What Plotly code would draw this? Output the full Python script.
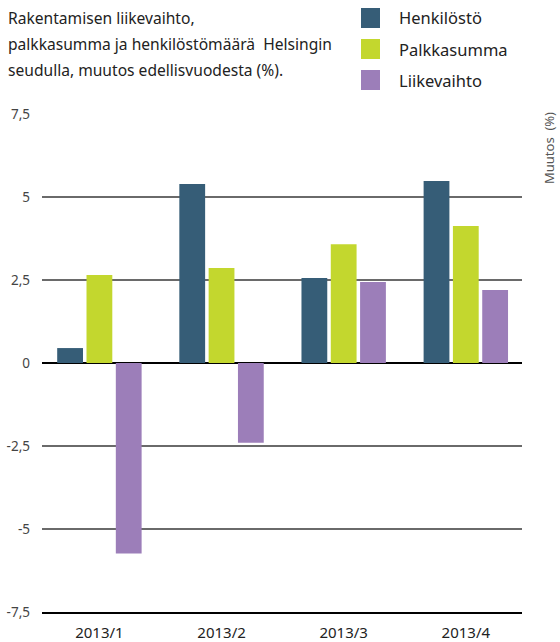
import plotly.graph_objects as go

categories = ["2013/1", "2013/2", "2013/3", "2013/4"]
henkilosto = [0.45, 5.39, 2.56, 5.48]
palkkasumma = [2.65, 2.86, 3.58, 4.13]
liikevaihto = [-5.74, -2.40, 2.44, 2.20]
series_names = ["Henkilöstö", "Palkkasumma", "Liikevaihto"]
colors = ["#365D77", "#C3D72E", "#9C7EB9"]
tick_vals = [-7.5, -5, -2.5, 0, 2.5, 5, 7.5]
tick_text = ["-7,5", "-5", "-2,5", "0", "2,5", "5", "7,5"]
title_lines = ["Rakentamisen liikevaihto,",
               "palkkasumma ja henkilöstömäärä  Helsingin",
               "seudulla, muutos edellisvuodesta (%)."]
FONT = "Noto Sans"

W, H = 560, 642
L, R, T, B = 42, 38, 113, 30
pw, ph = W - L - R, H - T - B

def px(x):
    return (x - L) / pw

def py(y):
    return (H - B - y) / ph

fig = go.Figure()
for name, vals, c in zip(series_names, [henkilosto, palkkasumma, liikevaihto], colors):
    fig.add_trace(go.Bar(x=categories, y=vals, name=name, marker_color=c,
                         marker_line_width=0, showlegend=False, hoverinfo="skip"))

shapes = []
annotations = []
for i, line in enumerate(title_lines):
    annotations.append(dict(text=line, xref="paper", yref="paper", x=px(6), y=py(18 + i * 26),
                            xanchor="left", yanchor="middle", showarrow=False,
                            font=dict(family=FONT, size=15.6, color="#222")))
for i, (name, c) in enumerate(zip(series_names, colors)):
    cy = 18 + i * 31
    shapes.append(dict(type="rect", xref="paper", yref="paper", x0=px(361), x1=px(380),
                       y0=py(cy - 10), y1=py(cy + 10), fillcolor=c, line_width=0))
    annotations.append(dict(text=name, xref="paper", yref="paper", x=px(397), y=py(cy),
                            xanchor="left", yanchor="middle", showarrow=False,
                            font=dict(family=FONT, size=16.5, color="#222")))
annotations.append(dict(text="Muutos  (%)", xref="paper", yref="paper", x=px(549), y=py(148),
                        xanchor="center", yanchor="middle", textangle=-90, showarrow=False,
                        font=dict(family=FONT, size=13, color="#555")))

fig.update_layout(
    width=W, height=H, margin=dict(l=L, r=R, t=T, b=B, autoexpand=False),
    paper_bgcolor="white", plot_bgcolor="white",
    barmode="group", bargap=0.28, bargroupgap=0.12,
    shapes=shapes, annotations=annotations,
    xaxis=dict(range=[-0.47, 3.46], showgrid=False, showline=True, linecolor="#000",
               linewidth=1.8, ticks="", ticklabelstandoff=6, automargin=False,
               tickfont=dict(family=FONT, size=15, color="#222")),
    yaxis=dict(range=[-7.5, 7.53], tickvals=tick_vals, ticktext=tick_text,
               showgrid=True, gridcolor="#6a6a6a", gridwidth=1.6,
               zeroline=True, zerolinecolor="#000", zerolinewidth=1.8,
               showline=False, ticks="", ticklabelstandoff=11, automargin=False,
               tickfont=dict(family=FONT, size=13.5, color="#444")),
)
fig.write_html("out.html", config={"displayModeBar": False},
               post_script="document.body.style.margin='0';document.body.style.overflow='hidden';")
